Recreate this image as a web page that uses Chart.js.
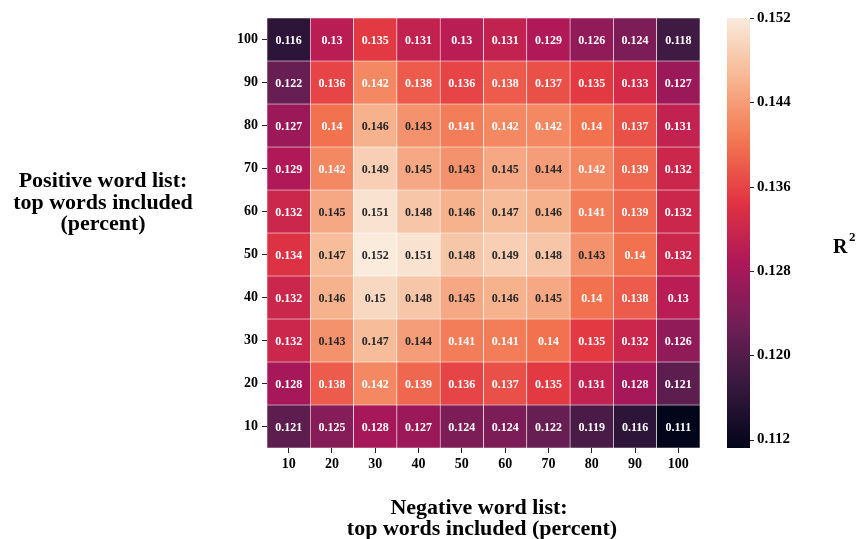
<!DOCTYPE html>
<html>
<head>
<meta charset="utf-8">
<script src="https://cdn.jsdelivr.net/npm/chart.js@4.4.1/dist/chart.umd.min.js"></script>
<style>
  html, body { margin: 0; padding: 0; background: #ffffff; }
  #wrap { position: relative; width: 857px; height: 539px; }
</style>
</head>
<body>
<div id="wrap"><canvas id="heat" width="857" height="539"></canvas></div>
<script>
// Column categories: negative word list share (percent)
const colLabels = ['10', '20', '30', '40', '50', '60', '70', '80', '90', '100'];
// Row categories, top to bottom: positive word list share (percent)
const rowLabels = ['100', '90', '80', '70', '60', '50', '40', '30', '20', '10'];

// R² values per row (positive %), columns follow colLabels
const row100 = [0.116, 0.13, 0.135, 0.131, 0.13, 0.131, 0.129, 0.126, 0.124, 0.118];
const row90  = [0.122, 0.136, 0.142, 0.138, 0.136, 0.138, 0.137, 0.135, 0.133, 0.127];
const row80  = [0.127, 0.14, 0.146, 0.143, 0.141, 0.142, 0.142, 0.14, 0.137, 0.131];
const row70  = [0.129, 0.142, 0.149, 0.145, 0.143, 0.145, 0.144, 0.142, 0.139, 0.132];
const row60  = [0.132, 0.145, 0.151, 0.148, 0.146, 0.147, 0.146, 0.141, 0.139, 0.132];
const row50  = [0.134, 0.147, 0.152, 0.151, 0.148, 0.149, 0.148, 0.143, 0.14, 0.132];
const row40  = [0.132, 0.146, 0.15, 0.148, 0.145, 0.146, 0.145, 0.14, 0.138, 0.13];
const row30  = [0.132, 0.143, 0.147, 0.144, 0.141, 0.141, 0.14, 0.135, 0.132, 0.126];
const row20  = [0.128, 0.138, 0.142, 0.139, 0.136, 0.137, 0.135, 0.131, 0.128, 0.121];
const row10  = [0.121, 0.125, 0.128, 0.127, 0.124, 0.124, 0.122, 0.119, 0.116, 0.111];
const r2Grid = [row100, row90, row80, row70, row60, row50, row40, row30, row20, row10];

// Colour bar range and ticks
const cbMin = 0.1112;
const cbMax = 0.152;
const cbTicks = [0.112, 0.120, 0.128, 0.136, 0.144, 0.152];

// "rocket"-style sequential palette stops
const rocketStops = [
  [0.000, [3, 5, 26]],
  [0.143, [53, 25, 62]],
  [0.286, [112, 31, 87]],
  [0.429, [173, 23, 89]],
  [0.571, [225, 51, 66]],
  [0.714, [243, 118, 81]],
  [0.857, [246, 180, 143]],
  [1.000, [250, 235, 221]]
];

function rocketRGB(t) {
  t = Math.max(0, Math.min(1, t));
  for (let i = 1; i < rocketStops.length; i++) {
    const [t1, c1] = rocketStops[i];
    const [t0, c0] = rocketStops[i - 1];
    if (t <= t1) {
      const f = (t - t0) / (t1 - t0);
      return c0.map((c, k) => Math.round(c + (c1[k] - c) * f));
    }
  }
  return rocketStops[rocketStops.length - 1][1];
}
function valueRGB(v) { return rocketRGB((v - cbMin) / (cbMax - cbMin)); }
function rgbStr(c) { return `rgb(${c[0]},${c[1]},${c[2]})`; }
function luminance(c) {
  const lin = c.map(x => { x /= 255; return x <= 0.03928 ? x / 12.92 : Math.pow((x + 0.055) / 1.055, 2.4); });
  return 0.2126 * lin[0] + 0.7152 * lin[1] + 0.0722 * lin[2];
}
function fmt3(v) { return String(Number(v.toPrecision(3))); }

const SERIF = '"Liberation Serif", "Times New Roman", serif';
const nRows = rowLabels.length;

// One floating-bar dataset per row; each bar spans one row band on the y scale
const datasets = r2Grid.map((vals, r) => ({
  label: rowLabels[r],
  data: colLabels.map((c, j) => ({ x: c, y: [nRows - 1 - r, nRows - r], v: vals[j] })),
  backgroundColor: vals.map(v => rgbStr(valueRGB(v))),
  borderColor: '#ffffff',
  borderWidth: 0.6,
  borderSkipped: false,
  categoryPercentage: 1.0,
  barPercentage: 1.0,
  grouped: false
}));

// Cell annotations
const cellText = {
  id: 'cellText',
  afterDatasetsDraw(chart) {
    const ctx = chart.ctx;
    ctx.save();
    ctx.font = `bold 12px ${SERIF}`;
    ctx.textAlign = 'center';
    ctx.textBaseline = 'middle';
    chart.data.datasets.forEach((ds, di) => {
      const meta = chart.getDatasetMeta(di);
      meta.data.forEach((el, j) => {
        const v = ds.data[j].v;
        const lum = luminance(valueRGB(v));
        ctx.fillStyle = lum > 0.408 ? '#262626' : '#ffffff';
        const p = el.getCenterPoint();
        ctx.fillText(fmt3(v), p.x, p.y + 1);
      });
    });
    ctx.restore();
  }
};

// Colour bar strip, its tick marks and the axis titles
const decorations = {
  id: 'decorations',
  afterDraw(chart) {
    const ctx = chart.ctx;
    const cb = chart.scales.cb;
    const area = chart.chartArea;
    const x0 = area.right + 27, w = 23;
    const yTop = cb.getPixelForValue(cbMax), yBot = cb.getPixelForValue(cbMin);
    ctx.save();
    const g = ctx.createLinearGradient(0, yBot, 0, yTop);
    for (let i = 0; i <= 40; i++) {
      g.addColorStop(i / 40, rgbStr(rocketRGB(i / 40)));
    }
    ctx.fillStyle = g;
    ctx.fillRect(x0, yTop, w, yBot - yTop);
    ctx.strokeStyle = '#262626';
    ctx.lineWidth = 1;
    cbTicks.forEach(t => {
      const y = Math.round(cb.getPixelForValue(t)) + 0.5;
      ctx.beginPath();
      ctx.moveTo(x0 + w, y);
      ctx.lineTo(x0 + w + 4, y);
      ctx.stroke();
    });

    ctx.fillStyle = '#000000';
    ctx.textAlign = 'center';
    ctx.textBaseline = 'alphabetic';
    ctx.font = `bold 22px ${SERIF}`;
    // y-axis title
    ['Positive word list:', 'top words included', '(percent)'].forEach((s, i) => {
      ctx.fillText(s, 103, 187 + i * 21.5);
    });
    // x-axis title
    ctx.fillText('Negative word list:', 479, 514);
    ctx.fillText('top words included (percent)', 482, 535);
    // colour bar title R²
    ctx.textAlign = 'left';
    ctx.font = `bold 20px ${SERIF}`;
    ctx.fillText('R', 833, 253);
    ctx.font = `bold 13px ${SERIF}`;
    ctx.fillText('2', 849, 241);
    ctx.restore();
  }
};

function noVerticalPadding(scale) {
  scale.paddingTop = 0;
  scale.paddingBottom = 0;
}

new Chart(document.getElementById('heat'), {
  type: 'bar',
  data: { labels: colLabels, datasets },
  options: {
    responsive: false,
    animation: false,
    layout: { padding: { top: 18, left: 0, right: 0, bottom: 0 } },
    plugins: { legend: { display: false }, tooltip: { enabled: false } },
    scales: {
      x: {
        type: 'category',
        offset: true,
        grid: { display: true, offset: false, drawOnChartArea: false, tickLength: 5, color: '#262626', tickColor: '#262626' },
        border: { display: false },
        ticks: { color: '#000000', font: { family: SERIF, size: 14, weight: 'bold' }, padding: 3, maxRotation: 0 },
        afterFit(scale) { scale.height = 91; }
      },
      y: {
        type: 'linear',
        min: 0,
        max: nRows,
        grid: { display: true, drawOnChartArea: false, tickLength: 5, color: '#262626', tickColor: '#262626' },
        border: { display: false },
        afterBuildTicks(scale) {
          scale.ticks = rowLabels.map((l, r) => ({ value: nRows - r - 0.5 }));
        },
        ticks: {
          color: '#000000',
          font: { family: SERIF, size: 14, weight: 'bold' },
          padding: 4,
          callback(value) { return rowLabels[Math.round(nRows - 0.5 - value)]; }
        },
        afterFit(scale) { scale.width = 267; noVerticalPadding(scale); }
      },
      cb: {
        type: 'linear',
        position: 'right',
        min: cbMin,
        max: cbMax,
        grid: { display: false, drawTicks: false, drawOnChartArea: false },
        border: { display: false },
        afterBuildTicks(scale) { scale.ticks = cbTicks.map(v => ({ value: v })); },
        ticks: {
          color: '#000000',
          font: { family: SERIF, size: 15, weight: 'bold' },
          padding: 57,
          callback(value) { return value.toFixed(3); }
        },
        afterFit(scale) { scale.width = 157; noVerticalPadding(scale); }
      }
    }
  },
  plugins: [cellText, decorations]
});
</script>
</body>
</html>
